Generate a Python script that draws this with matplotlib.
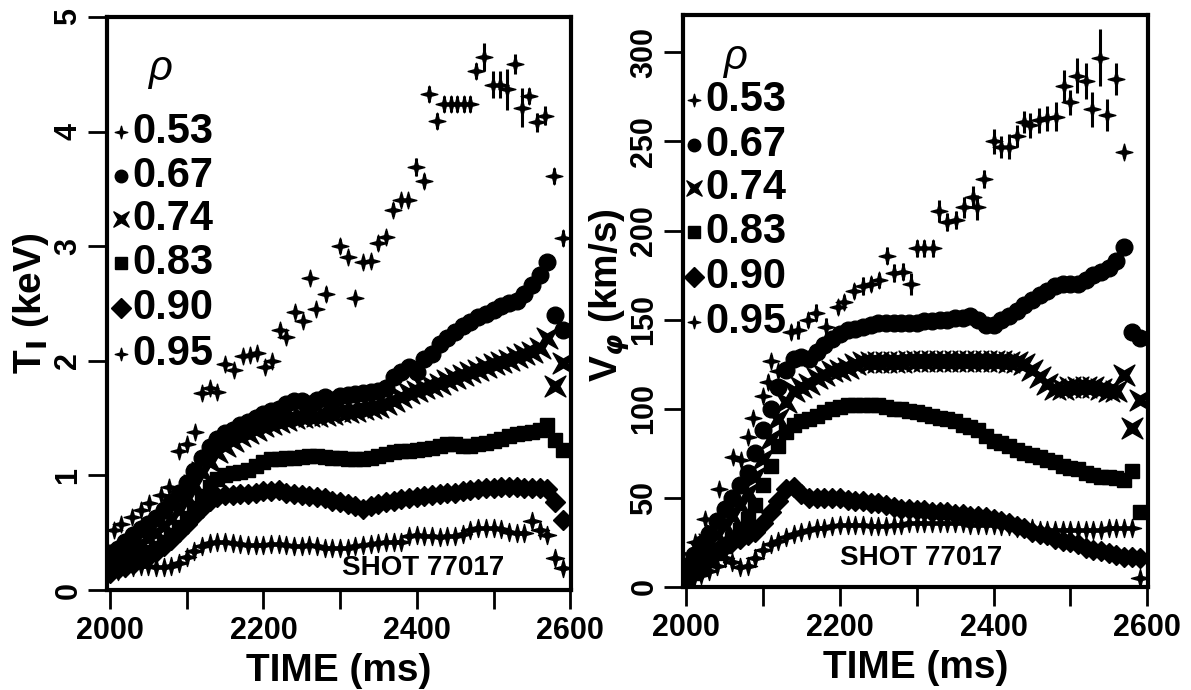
import numpy as np
import matplotlib
matplotlib.use('Agg')
import matplotlib.pyplot as plt
from matplotlib.path import Path

plt.rcParams['font.family'] = ['Liberation Sans', 'DejaVu Sans']
plt.rcParams['font.weight'] = 'bold'
plt.rcParams['axes.labelweight'] = 'bold'
plt.rcParams['mathtext.fontset'] = 'dejavusans'

# sample times of the dense (rho >= 0.67) profiles, ms
t_dense = [2000, 2010, 2020, 2030, 2040, 2050, 2060, 2070, 2080, 2090,
           2100, 2110, 2120, 2130, 2140, 2150, 2160, 2170, 2180, 2190,
           2200, 2210, 2220, 2230, 2240, 2250, 2260, 2270, 2280, 2290,
           2300, 2310, 2320, 2330, 2340, 2350, 2360, 2370, 2380, 2390,
           2400, 2410, 2420, 2430, 2440, 2450, 2460, 2470, 2480, 2490,
           2500, 2510, 2520, 2530, 2540, 2550, 2560, 2570, 2580, 2590]

# ---- T_i (keV) ----
ti_067 = [.32, .36, .42, .48, .53, .58, .63, .70, .77, .85,
          .93, 1.04, 1.15, 1.25, 1.32, 1.37, 1.40, 1.44, 1.47, 1.50,
          1.54, 1.56, 1.58, 1.62, 1.65, 1.65, 1.62, 1.66, 1.68, 1.66,
          1.69, 1.70, 1.71, 1.72, 1.73, 1.74, 1.76, 1.86, 1.90, 1.95,
          1.90, 2.02, 2.06, 2.15, 2.20, 2.25, 2.30, 2.34, 2.38, 2.41,
          2.44, 2.48, 2.50, 2.52, 2.58, 2.66, 2.75, 2.86, 2.40, 2.27]
ti_074 = [.25, .28, .32, .36, .40, .45, .50, .56, .62, .70,
          .80, .92, 1.03, 1.12, 1.20, 1.26, 1.30, 1.34, 1.37, 1.40,
          1.43, 1.45, 1.47, 1.48, 1.50, 1.51, 1.52, 1.52, 1.53, 1.54,
          1.55, 1.55, 1.56, 1.58, 1.59, 1.60, 1.62, 1.65, 1.68, 1.72,
          1.74, 1.76, 1.78, 1.80, 1.83, 1.85, 1.88, 1.90, 1.92, 1.95,
          1.97, 1.99, 2.01, 2.03, 2.06, 2.08, 2.11, 2.20, 1.78, 1.98]
ti_083 = [.20, .22, .24, .27, .30, .33, .37, .42, .48, .55,
          .63, .72, .82, .90, .97, 1.00, 1.02, 1.03, 1.05, 1.08,
          1.12, 1.14, 1.14, 1.15, 1.15, 1.16, 1.17, 1.17, 1.16, 1.15,
          1.15, 1.14, 1.14, 1.14, 1.15, 1.17, 1.19, 1.20, 1.21, 1.21,
          1.22, 1.23, 1.24, 1.26, 1.27, 1.27, 1.26, 1.26, 1.27, 1.28,
          1.30, 1.32, 1.34, 1.36, 1.37, 1.38, 1.40, 1.44, 1.31, 1.22]
ti_090 = [.15, .18, .20, .23, .26, .29, .33, .38, .44, .51,
          .58, .65, .72, .78, .81, .83, .83, .84, .84, .85,
          .86, .86, .87, .85, .84, .83, .82, .81, .80, .78,
          .77, .75, .73, .71, .73, .75, .77, .78, .79, .80,
          .81, .82, .83, .84, .85, .85, .86, .87, .88, .89,
          .89, .90, .90, .90, .89, .89, .89, .88, .77, .61]
ti_095 = [.15, .17, .19, .20, .21, .21, .20, .20, .21, .24,
          .29, .34, .38, .41, .42, .42, .41, .40, .39, .39,
          .39, .40, .40, .39, .38, .38, .39, .38, .37, .37,
          .37, .37, .38, .39, .40, .41, .42, .42, .42, .47,
          .48, .47, .47, .46, .47, .47, .49, .52, .54, .54,
          .54, .53, .51, .50, .50, .60, .52, .48, .28, .19]

# rho = 0.53 (sparse, with error bars)
t_ti53 = [2005, 2014, 2029, 2040, 2051, 2066, 2077, 2090, 2100, 2111,
          2120, 2131, 2139, 2150, 2161, 2174, 2183, 2191, 2202, 2211,
          2222, 2230, 2241, 2252, 2261, 2269, 2282, 2300, 2310, 2319,
          2330, 2340, 2349, 2360, 2369, 2379, 2389, 2399, 2410, 2416,
          2426, 2436, 2445, 2453, 2462, 2470, 2477, 2488, 2499, 2509,
          2517, 2528, 2537, 2546, 2557, 2567, 2579, 2590]
ti_053 = [.52, .58, .64, .70, .76, .83, .90, 1.21, 1.27, 1.38,
          1.72, 1.76, 1.73, 1.97, 1.92, 2.04, 2.05, 2.07, 1.95, 2.00,
          2.27, 2.21, 2.43, 2.35, 2.72, 2.45, 2.58, 3.00, 2.91, 2.55,
          2.86, 2.87, 3.03, 3.08, 3.32, 3.40, 3.40, 3.69, 3.57, 4.33,
          4.09, 4.24, 4.24, 4.24, 4.24, 4.24, 4.53, 4.65, 4.41, 4.41,
          4.37, 4.59, 4.21, 4.31, 4.08, 4.14, 3.61, 3.07]
ti_053_err = [.04, .04, .03, .03, .03, .03, .04, .04, .03, .04,
              .05, .04, .04, .05, .04, .04, .03, .04, .05, .04,
              .05, .05, .05, .04, .04, .04, .06, .06, .05, .04,
              .05, .05, .06, .05, .06, .05, .05, .08, .06, .07,
              .07, .07, .07, .07, .07, .07, .07, .12, .12, .12,
              .18, .09, .17, .07, .08, .08, .07, .07]

# ---- V_phi (km/s) ----
v_067 = [12, 18, 24, 30, 37, 44, 50, 57, 64, 75,
         88, 100, 112, 122, 128, 129, 128, 132, 136, 139,
         142, 144, 145, 146, 147, 148, 148, 148, 148, 148,
         148, 149, 149, 150, 150, 151, 151, 152, 150, 147,
         147, 150, 152, 155, 158, 161, 164, 166, 169, 170,
         170, 170, 172, 175, 177, 179, 183, 191, 143, 140]
v_074 = [10, 14, 19, 24, 29, 34, 40, 46, 53, 62,
         72, 83, 94, 104, 110, 112, 114, 117, 119, 121,
         122, 123, 125, 126, 126, 126, 126, 126, 126, 127,
         127, 127, 127, 127, 127, 127, 127, 127, 127, 127,
         127, 127, 126, 126, 125, 122, 118, 114, 111, 111,
         112, 112, 112, 112, 111, 110, 110, 119, 89, 105]
v_083 = [5, 8, 11, 15, 19, 23, 27, 32, 38, 46,
         57, 68, 79, 87, 91, 93, 94, 96, 98, 100,
         101, 102, 102, 102, 102, 102, 101, 100, 100, 99,
         98, 97, 96, 95, 94, 93, 91, 90, 88, 85,
         82, 81, 79, 77, 75, 74, 73, 71, 70, 68,
         67, 66, 64, 63, 62, 62, 61, 60, 65, 42]
v_090 = [8, 11, 14, 17, 20, 23, 25, 27, 29, 31,
         36, 42, 48, 55, 56, 52, 50, 50, 50, 50,
         50, 49, 48, 48, 47, 47, 46, 45, 44, 44,
         43, 43, 42, 42, 42, 41, 41, 40, 40, 39,
         38, 37, 36, 34, 33, 31, 30, 29, 27, 26,
         25, 24, 22, 21, 20, 19, 18, 17, 17, 16]
v_095 = [3, 5, 7, 9, 12, 16, 14, 11, 12, 16,
         21, 24, 26, 28, 30, 31, 32, 33, 33, 34,
         35, 35, 35, 35, 34, 34, 34, 35, 35, 36,
         36, 36, 36, 36, 36, 36, 36, 35, 35, 35,
         35, 34, 34, 33, 33, 33, 32, 32, 32, 32,
         32, 32, 32, 32, 32, 33, 33, 33, 33, 5]

t_v53 = [2011, 2024, 2043, 2061, 2072, 2080, 2087, 2100, 2106, 2111,
         2119, 2137, 2145, 2158, 2169, 2182, 2197, 2206, 2219, 2230,
         2241, 2251, 2262, 2271, 2282, 2293, 2301, 2310, 2321, 2329,
         2340, 2351, 2362, 2373, 2379, 2388, 2400, 2410, 2420, 2431,
         2440, 2448, 2459, 2470, 2481, 2492, 2500, 2509, 2520, 2528,
         2539, 2548, 2559, 2570]
v_053 = [25, 38, 55, 73, 71, 84, 95, 107, 115, 127,
         121, 143, 144, 150, 154, 146, 157, 160, 166, 169,
         170, 172, 186, 176, 177, 170, 190, 190, 190, 211,
         205, 206, 213, 219, 213, 229, 250, 247, 247, 253,
         261, 259, 262, 263, 264, 281, 272, 287, 284, 268,
         297, 265, 285, 244]
v_053_err = [3, 3, 3, 3, 3, 3, 3, 3, 4, 3,
             3, 4, 5, 4, 5, 5, 4, 4, 4, 5,
             4, 4, 5, 5, 5, 6, 5, 5, 5, 6,
             5, 5, 6, 6, 7, 5, 7, 6, 7, 6,
             6, 7, 7, 7, 8, 9, 7, 10, 10, 10,
             16, 9, 9, 3]

rho_labels = ['0.53', '0.67', '0.74', '0.83', '0.90', '0.95']

# marker shapes: thin 4-point star ("+") and the same turned 45 deg ("x")
star = Path.unit_regular_star(4, 0.3)
ang = np.deg2rad(45)
rot = np.array([[np.cos(ang), -np.sin(ang)], [np.sin(ang), np.cos(ang)]])
xstar = Path(star.vertices @ rot.T, star.codes)

styles = [dict(marker=star, ms=12),
          dict(marker='o', ms=12),
          dict(marker=xstar, ms=15),
          dict(marker='s', ms=10.5),
          dict(marker='D', ms=10.5),
          dict(marker=star, ms=13)]
key_ms = [9, 9, 11, 9, 10, 9]


def panel(ax, dense, t53, y53, e53, leg_x, leg_y, rho_pos, shot_pos):
    ax.errorbar(t53, y53, yerr=e53, fmt='none', ecolor='k', elinewidth=2.2, capsize=0)
    ax.plot(t53, y53, ls='none', color='k', **styles[0])
    for vals, st in zip(dense, styles[1:]):
        ax.plot(t_dense, vals, ls='none', color='k', mec='k', **st)
    # hand-drawn style key
    for i, (lab, st) in enumerate(zip(rho_labels, styles)):
        yy = leg_y[i]
        ax.plot([leg_x - 0.024], [yy], transform=ax.transAxes, color='k', clip_on=False,
                marker=st['marker'], ms=key_ms[i])
        ax.text(leg_x, yy, lab, transform=ax.transAxes, fontsize=30, va='center', ha='left')
    ax.text(rho_pos[0], rho_pos[1], 'ρ', transform=ax.transAxes, fontsize=30,
            va='center', ha='center', fontweight='normal', fontstyle='italic')
    ax.text(shot_pos[0], shot_pos[1], 'SHOT 77017', transform=ax.transAxes, fontsize=20,
            va='center', ha='center')
    ax.set_xlim(1996, 2601)
    ax.set_xticks([2000, 2200, 2400, 2600])
    ax.set_xticks([2100, 2300, 2500], minor=True)
    ax.tick_params(which='both', direction='out', length=14, width=2, labelsize=22)
    ax.tick_params(axis='x', pad=5)
    ax.tick_params(axis='y', pad=3, labelrotation=90)
    for sp in ax.spines.values():
        sp.set_linewidth(3)
    ax.set_xlabel('TIME (ms)', fontsize=28, labelpad=5)


fig = plt.figure(figsize=(11.91, 6.90), dpi=100)
ax1 = fig.add_axes([0.0898, 0.1449, 0.3896, 0.8305])
ax2 = fig.add_axes([0.5735, 0.1493, 0.3904, 0.8290])

panel(ax1, [ti_067, ti_074, ti_083, ti_090, ti_095], t_ti53, ti_053, ti_053_err,
      0.054, [0.799, 0.723, 0.647, 0.571, 0.492, 0.412], (0.114, 0.91), (0.681, 0.038))
ax1.set_ylim(0, 5)
ax1.set_yticks([0, 1, 2, 3, 4, 5])
ax1.set_ylabel(r'T$_\mathbf{I}$ (keV)', fontsize=28)
ax1.yaxis.set_label_coords(-0.12, 0.5)

panel(ax2, [v_067, v_074, v_083, v_090, v_095], t_v53, v_053, v_053_err,
      0.047, [0.851, 0.773, 0.698, 0.621, 0.542, 0.463], (0.112, 0.925), (0.512, 0.051))
ax2.set_ylim(0, 321)
ax2.set_yticks([0, 50, 100, 150, 200, 250, 300])
ax2.set_ylabel(r'V$_\varphi$ (km/s)', fontsize=28)
ax2.yaxis.set_label_coords(-0.11, 0.51)

for ax in (ax1, ax2):
    for lab in ax.get_yticklabels():
        lab.set_va('center')

fig.savefig('out.png', dpi=100)
